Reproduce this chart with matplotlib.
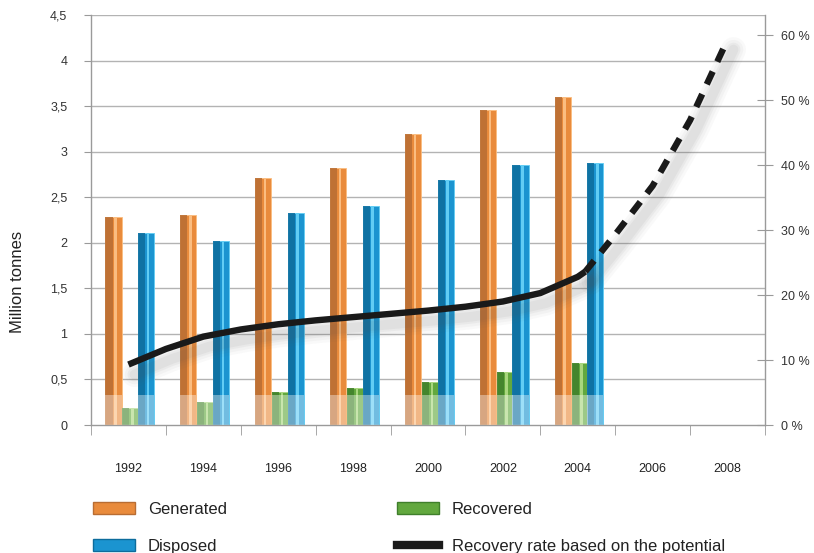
import matplotlib
matplotlib.use("Agg")
import matplotlib.pyplot as plt
import matplotlib.transforms as mtransforms
from matplotlib.patches import Patch
from matplotlib.lines import Line2D
import numpy as np

plt.rcParams['font.family'] = ['Liberation Sans', 'DejaVu Sans']

# ---- data ----
years = [1992, 1994, 1996, 1998, 2000, 2002, 2004, 2006, 2008]
bar_years = [1992, 1994, 1996, 1998, 2000, 2002, 2004]
generated = [2.28, 2.30, 2.71, 2.82, 3.19, 3.46, 3.60]
recovered = [0.19, 0.25, 0.36, 0.41, 0.47, 0.58, 0.68]
disposed = [2.11, 2.02, 2.33, 2.40, 2.69, 2.85, 2.88]

rate_years = [1992, 1993, 1994, 1995, 1996, 1997, 1998, 1999, 2000, 2001, 2002, 2003, 2004, 2004.2]
rate = [9.3, 11.7, 13.6, 14.7, 15.5, 16.1, 16.6, 17.1, 17.6, 18.2, 19.0, 20.3, 22.8, 23.6]
proj_years = [2004.2, 2005, 2006, 2007, 2008]
proj_rate = [23.6, 29.3, 36.8, 46.9, 59.3]

left_ticks = [0, 0.5, 1, 1.5, 2, 2.5, 3, 3.5, 4, 4.5]
left_labels = ['0', '0,5', '1', '1,5', '2', '2,5', '3', '3,5', '4', '4,5']
right_ticks = [0, 10, 20, 30, 40, 50, 60]
right_labels = ['0 %', '10 %', '20 %', '30 %', '40 %', '50 %', '60 %']

labels = ['Generated', 'Recovered', 'Disposed', 'Recovery rate based on the potential']

# ---- styling ----
cols = {
    'gen': ('#b86d33', '#e98b3c', '#fbbd80'),
    'rec': ('#3f7f2b', '#62a83e', '#a8d67e'),
    'dis': ('#0d6c9c', '#1b94d0', '#62cdf4'),
}
W = 0.215
offsets = {'gen': -0.2, 'rec': 0.025, 'dis': 0.235}

fig = plt.figure(figsize=(8.14, 5.53), dpi=100)
ax = fig.add_axes([91/814, 1 - 425/553, (765-91)/814, (425-15)/553])
ax2 = ax.twinx()

def idx(y):
    return (np.asarray(y, dtype=float) - 1992) / 2.0

xb = idx(bar_years)

ax.set_xlim(-0.5, 8.5)
ax.set_ylim(0, 4.5)
ax2.set_ylim(0, 63.08)

# gridlines
for t in left_ticks[1:]:
    ax.axhline(t, color='#b3b3b3', lw=1.0, zorder=0)

def draw_bars(key, vals):
    dark, mid, light = cols[key]
    x = xb + offsets[key]
    v = np.asarray(vals)
    ax.bar(x, v, width=W, color=mid, edgecolor=light, linewidth=0.6, zorder=2)
    ax.bar(x - W*0.28, v, width=W*0.44, color=dark, linewidth=0, zorder=2, alpha=0.85)
    ax.bar(x + W*0.12, v, width=W*0.16, color=light, linewidth=0, zorder=2)
    ax.bar(x, np.minimum(v, 0.33), width=W, color='white', alpha=0.38, linewidth=0, zorder=3)

draw_bars('gen', generated)
draw_bars('rec', recovered)
draw_bars('dis', disposed)

# recovery rate line with soft shadow
xr = idx(rate_years)
xp = idx(proj_years)
for lw, a in [(18, 0.03), (14, 0.04), (10, 0.05), (7, 0.06)]:
    sh = mtransforms.offset_copy(ax2.transData, fig=fig, x=6, y=-10, units='dots')
    ax2.plot(xr, rate, color='#555555', lw=lw, alpha=a, transform=sh, solid_capstyle='round', zorder=4)
    ax2.plot(xp, proj_rate, color='#555555', lw=lw, alpha=a, transform=sh, solid_capstyle='round', zorder=4)
ax2.plot(xr, rate, color='#1a1a1a', lw=4.6, solid_capstyle='butt', zorder=5)
ax2.plot(xp, proj_rate, color='#1a1a1a', lw=4.6, ls=(0, (2.2, 1.7)), dash_capstyle='butt', zorder=5)

# axes styling
for a in (ax, ax2):
    a.spines['top'].set_visible(False)
    for s in ('left', 'right', 'bottom'):
        a.spines[s].set_color('#9a9a9a')
        a.spines[s].set_linewidth(1.0)
ax2.spines['left'].set_visible(False)
ax.spines['right'].set_visible(False)
ax2.spines['bottom'].set_visible(False)

ax.set_yticks(left_ticks)
ax.set_yticklabels(left_labels, fontsize=9, color='#333333')
ax.tick_params(axis='y', length=5, color='#9a9a9a', pad=12)
ax2.set_yticks(right_ticks)
ax2.set_yticklabels(right_labels, fontsize=9, color='#333333')
ax2.tick_params(axis='y', direction='inout', length=11, color='#9a9a9a', pad=6)

ax.set_xticks(np.arange(9))
ax.set_xticklabels([str(y) for y in years], fontsize=9, color='#222222')
ax.set_xticks(np.arange(10) - 0.5, minor=True)
ax.tick_params(axis='x', which='major', length=0, pad=27)
ax.tick_params(axis='x', which='minor', length=7, color='#9a9a9a')

ax.set_ylabel('Million tonnes', fontsize=12, color='#222222')
ax.yaxis.set_label_coords(-0.098, 0.349)

# legend
def bar_handle(key):
    dark, mid, light = cols[key]
    return Patch(facecolor=mid, edgecolor=dark, linewidth=1.0)

handles = [bar_handle('gen'), bar_handle('dis'), bar_handle('rec'),
           Line2D([0], [0], color='#1a1a1a', lw=6)]
hlabels = [labels[0], labels[2], labels[1], labels[3]]
fig.legend(handles, hlabels, ncol=2, loc='upper left',
           bbox_to_anchor=(93/814, 1 - 502/553), frameon=False, fontsize=12,
           handlelength=2.5, handleheight=0.75, handletextpad=0.8,
           columnspacing=10.2, labelspacing=1.33, borderpad=0, borderaxespad=0,
           labelcolor='#222222')

fig.savefig('out.png', dpi=100)
